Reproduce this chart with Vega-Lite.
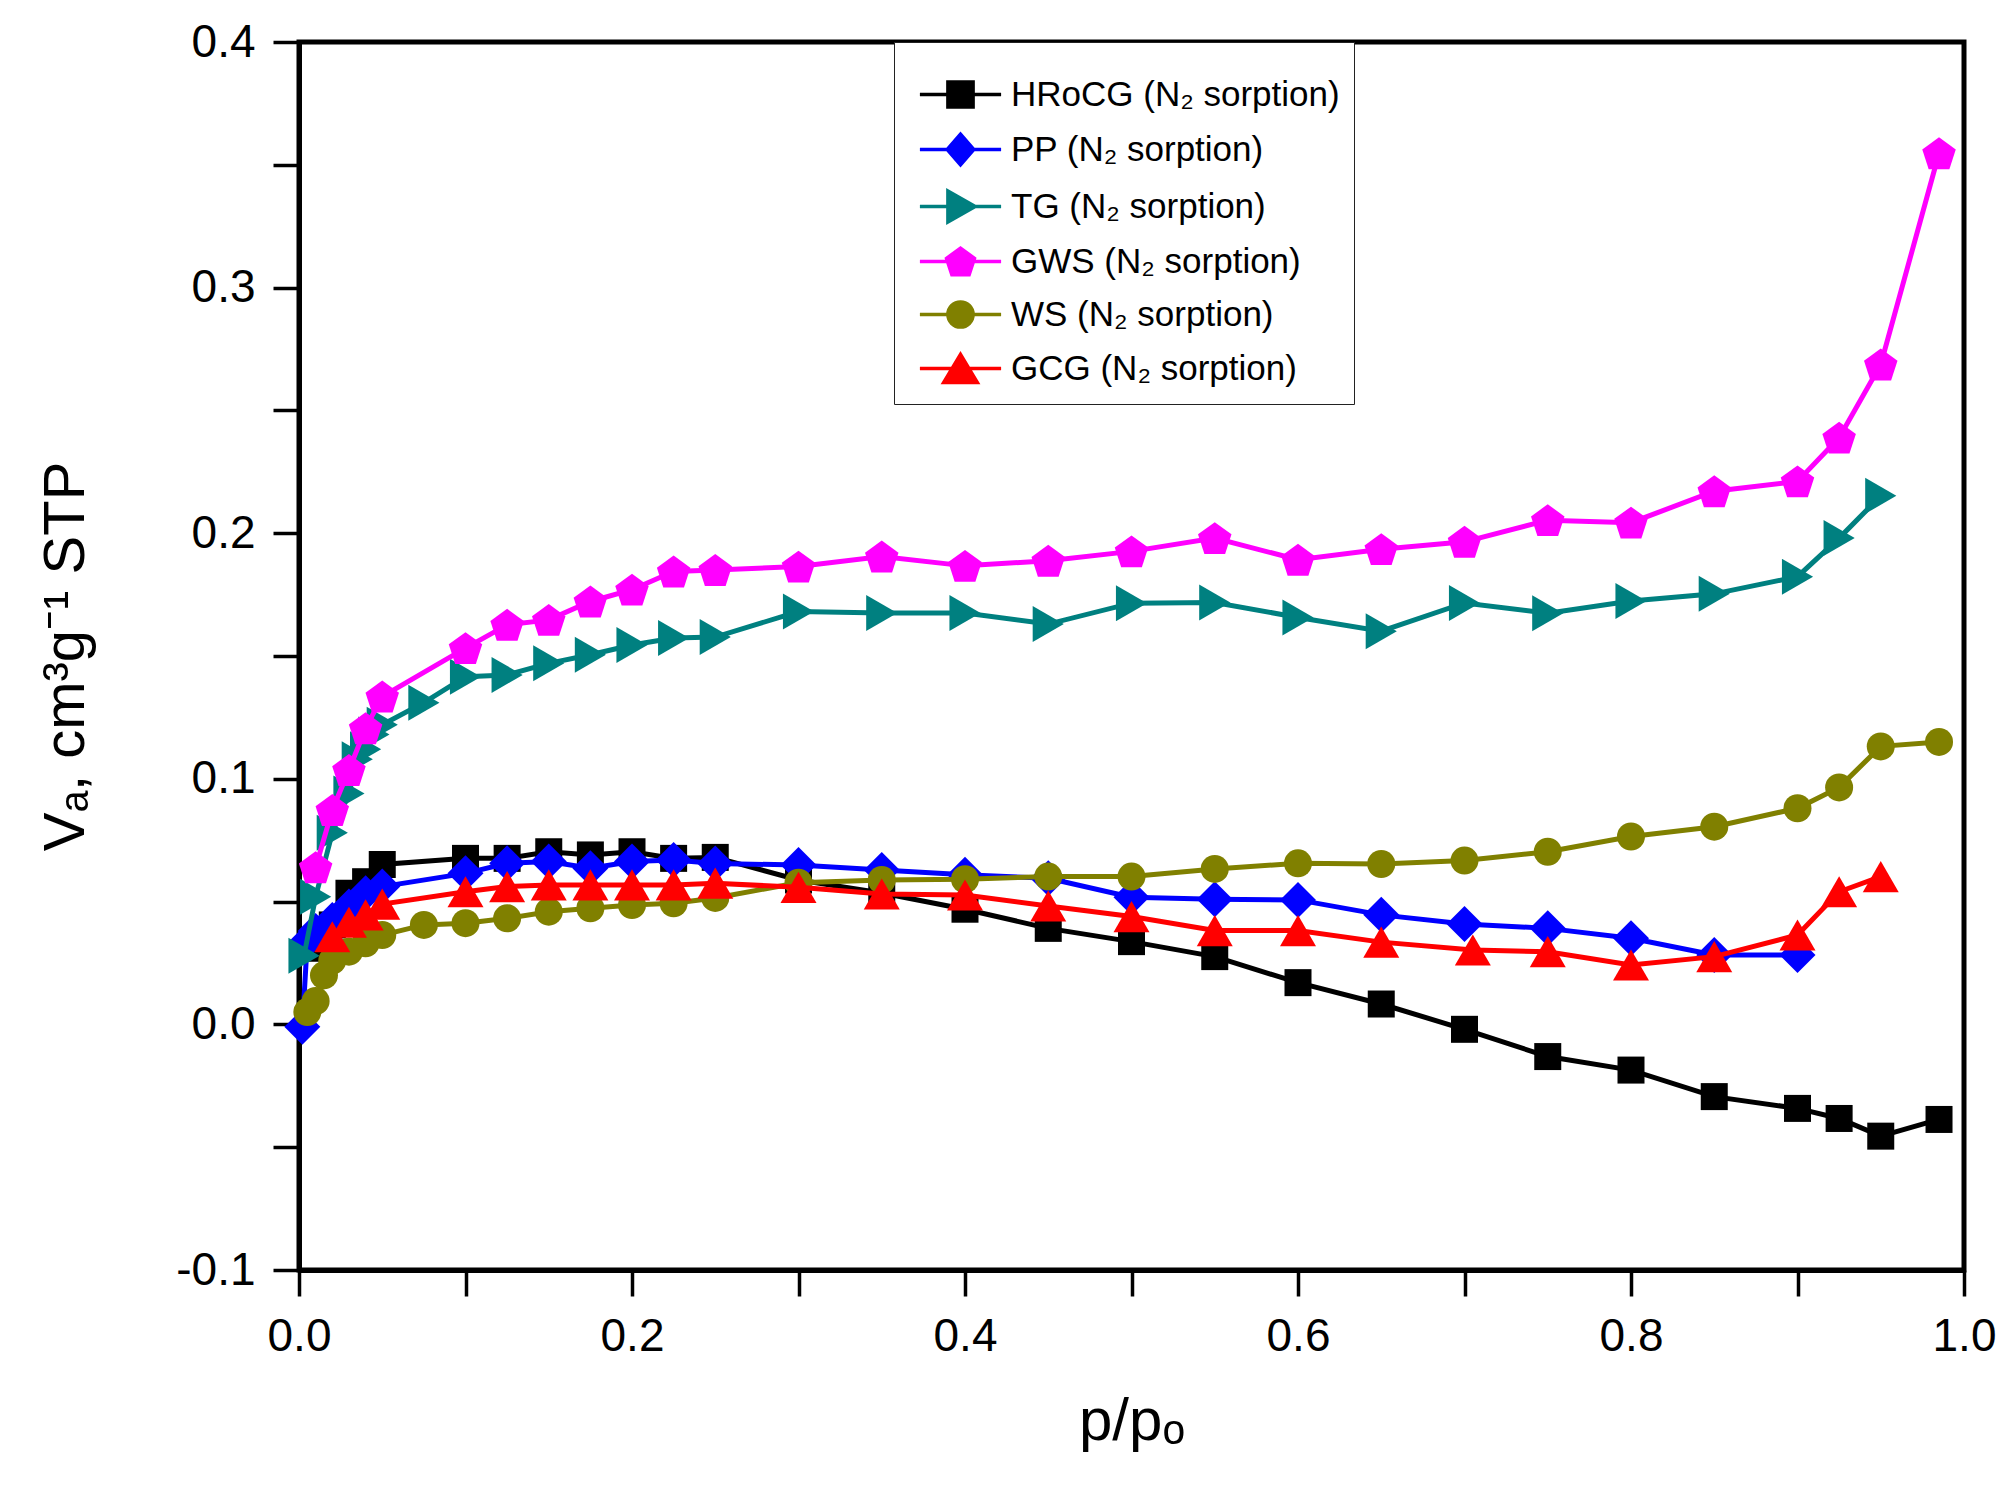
{
  "$schema": "https://vega.github.io/schema/vega-lite/v6.json",
  "width": 1665,
  "height": 1228,
  "autosize": {"type": "none"},
  "padding": {"left": 299, "top": 42, "right": 49, "bottom": 220},
  "background": "white",
  "config": {
    "view": {"stroke": "black", "strokeWidth": 5},
    "font": "Liberation Sans",
    "axis": {
      "grid": false,
      "domainColor": "black",
      "domainWidth": 5,
      "tickColor": "black",
      "tickWidth": 3.5,
      "tickSize": 26,
      "labelFont": "Liberation Sans",
      "labelFontSize": 46,
      "labelColor": "black",
      "labelPadding": 18,
      "labelOverlap": false,
      "labelFlush": false,
      "titleFont": "Liberation Sans",
      "titleFontWeight": "normal",
      "titleColor": "black"
    },
    "legend": {
      "orient": "none",
      "legendX": 595,
      "legendY": 0,
      "titleFontSize": 1,
      "titlePadding": 20,
      "padding": 14,
      "symbolSize": 784,
      "symbolOffset": 35,
      "symbolStrokeWidth": 3.5,
      "labelOffset": 33,
      "labelLimit": 0,
      "rowPadding": 12,
      "labelFont": "Liberation Sans",
      "labelFontSize": 35,
      "labelColor": "black",
      "strokeColor": "#222222",
      "fillColor": "white"
    }
  },
  "data": {
    "values": [
      {"sample": "HRoCG", "p": 0.01, "v": 0.031},
      {"sample": "HRoCG", "p": 0.02, "v": 0.0405},
      {"sample": "HRoCG", "p": 0.03, "v": 0.0534},
      {"sample": "HRoCG", "p": 0.04, "v": 0.0581},
      {"sample": "HRoCG", "p": 0.05, "v": 0.0651},
      {"sample": "HRoCG", "p": 0.1, "v": 0.0676},
      {"sample": "HRoCG", "p": 0.125, "v": 0.0676},
      {"sample": "HRoCG", "p": 0.15, "v": 0.0703},
      {"sample": "HRoCG", "p": 0.175, "v": 0.069},
      {"sample": "HRoCG", "p": 0.2, "v": 0.0703},
      {"sample": "HRoCG", "p": 0.225, "v": 0.0676},
      {"sample": "HRoCG", "p": 0.25, "v": 0.068},
      {"sample": "HRoCG", "p": 0.3, "v": 0.0588},
      {"sample": "HRoCG", "p": 0.35, "v": 0.0535},
      {"sample": "HRoCG", "p": 0.4, "v": 0.0469},
      {"sample": "HRoCG", "p": 0.45, "v": 0.0391},
      {"sample": "HRoCG", "p": 0.5, "v": 0.0337},
      {"sample": "HRoCG", "p": 0.55, "v": 0.0276},
      {"sample": "HRoCG", "p": 0.6, "v": 0.017},
      {"sample": "HRoCG", "p": 0.65, "v": 0.0083},
      {"sample": "HRoCG", "p": 0.7, "v": -0.002},
      {"sample": "HRoCG", "p": 0.75, "v": -0.0131},
      {"sample": "HRoCG", "p": 0.8, "v": -0.0186},
      {"sample": "HRoCG", "p": 0.85, "v": -0.0294},
      {"sample": "HRoCG", "p": 0.9, "v": -0.0342},
      {"sample": "HRoCG", "p": 0.925, "v": -0.0383},
      {"sample": "HRoCG", "p": 0.95, "v": -0.0455},
      {"sample": "HRoCG", "p": 0.985, "v": -0.0387},

      {"sample": "PP", "p": 0.002, "v": -0.001},
      {"sample": "PP", "p": 0.005, "v": 0.034},
      {"sample": "PP", "p": 0.01, "v": 0.038},
      {"sample": "PP", "p": 0.02, "v": 0.0425},
      {"sample": "PP", "p": 0.03, "v": 0.048},
      {"sample": "PP", "p": 0.04, "v": 0.0534},
      {"sample": "PP", "p": 0.05, "v": 0.0561},
      {"sample": "PP", "p": 0.1, "v": 0.0615},
      {"sample": "PP", "p": 0.125, "v": 0.0656},
      {"sample": "PP", "p": 0.15, "v": 0.0663},
      {"sample": "PP", "p": 0.175, "v": 0.0636},
      {"sample": "PP", "p": 0.2, "v": 0.0663},
      {"sample": "PP", "p": 0.225, "v": 0.0669},
      {"sample": "PP", "p": 0.25, "v": 0.0655},
      {"sample": "PP", "p": 0.3, "v": 0.0649},
      {"sample": "PP", "p": 0.35, "v": 0.0629},
      {"sample": "PP", "p": 0.4, "v": 0.0609},
      {"sample": "PP", "p": 0.45, "v": 0.0595},
      {"sample": "PP", "p": 0.5, "v": 0.0518},
      {"sample": "PP", "p": 0.55, "v": 0.051},
      {"sample": "PP", "p": 0.6, "v": 0.0507},
      {"sample": "PP", "p": 0.65, "v": 0.0446},
      {"sample": "PP", "p": 0.7, "v": 0.0409},
      {"sample": "PP", "p": 0.75, "v": 0.0391},
      {"sample": "PP", "p": 0.8, "v": 0.0351},
      {"sample": "PP", "p": 0.85, "v": 0.0283},
      {"sample": "PP", "p": 0.9, "v": 0.0283},

      {"sample": "TG", "p": 0.003, "v": 0.028},
      {"sample": "TG", "p": 0.01, "v": 0.052},
      {"sample": "TG", "p": 0.02, "v": 0.078},
      {"sample": "TG", "p": 0.03, "v": 0.094},
      {"sample": "TG", "p": 0.035, "v": 0.108},
      {"sample": "TG", "p": 0.04, "v": 0.112},
      {"sample": "TG", "p": 0.045, "v": 0.118},
      {"sample": "TG", "p": 0.05, "v": 0.122},
      {"sample": "TG", "p": 0.075, "v": 0.131},
      {"sample": "TG", "p": 0.1, "v": 0.1416},
      {"sample": "TG", "p": 0.125, "v": 0.1423},
      {"sample": "TG", "p": 0.15, "v": 0.147},
      {"sample": "TG", "p": 0.175, "v": 0.1505},
      {"sample": "TG", "p": 0.2, "v": 0.1545},
      {"sample": "TG", "p": 0.225, "v": 0.1573},
      {"sample": "TG", "p": 0.25, "v": 0.1577},
      {"sample": "TG", "p": 0.3, "v": 0.1681},
      {"sample": "TG", "p": 0.35, "v": 0.1675},
      {"sample": "TG", "p": 0.4, "v": 0.1675},
      {"sample": "TG", "p": 0.45, "v": 0.163},
      {"sample": "TG", "p": 0.5, "v": 0.1715},
      {"sample": "TG", "p": 0.55, "v": 0.1718},
      {"sample": "TG", "p": 0.6, "v": 0.1657},
      {"sample": "TG", "p": 0.65, "v": 0.1601},
      {"sample": "TG", "p": 0.7, "v": 0.1716},
      {"sample": "TG", "p": 0.75, "v": 0.1674},
      {"sample": "TG", "p": 0.8, "v": 0.1724},
      {"sample": "TG", "p": 0.85, "v": 0.1753},
      {"sample": "TG", "p": 0.9, "v": 0.1823},
      {"sample": "TG", "p": 0.925, "v": 0.198},
      {"sample": "TG", "p": 0.95, "v": 0.2152},

      {"sample": "GWS", "p": 0.01, "v": 0.064},
      {"sample": "GWS", "p": 0.02, "v": 0.0873},
      {"sample": "GWS", "p": 0.03, "v": 0.1036},
      {"sample": "GWS", "p": 0.04, "v": 0.1206},
      {"sample": "GWS", "p": 0.05, "v": 0.1335},
      {"sample": "GWS", "p": 0.1, "v": 0.1532},
      {"sample": "GWS", "p": 0.125, "v": 0.1627},
      {"sample": "GWS", "p": 0.15, "v": 0.1647},
      {"sample": "GWS", "p": 0.175, "v": 0.1722},
      {"sample": "GWS", "p": 0.2, "v": 0.177},
      {"sample": "GWS", "p": 0.225, "v": 0.1844},
      {"sample": "GWS", "p": 0.25, "v": 0.185},
      {"sample": "GWS", "p": 0.3, "v": 0.1864},
      {"sample": "GWS", "p": 0.35, "v": 0.1905},
      {"sample": "GWS", "p": 0.4, "v": 0.1867},
      {"sample": "GWS", "p": 0.45, "v": 0.1888},
      {"sample": "GWS", "p": 0.5, "v": 0.1926},
      {"sample": "GWS", "p": 0.55, "v": 0.198},
      {"sample": "GWS", "p": 0.6, "v": 0.1892},
      {"sample": "GWS", "p": 0.65, "v": 0.1935},
      {"sample": "GWS", "p": 0.7, "v": 0.1965},
      {"sample": "GWS", "p": 0.75, "v": 0.2053},
      {"sample": "GWS", "p": 0.8, "v": 0.2043},
      {"sample": "GWS", "p": 0.85, "v": 0.2171},
      {"sample": "GWS", "p": 0.9, "v": 0.2211},
      {"sample": "GWS", "p": 0.925, "v": 0.2389},
      {"sample": "GWS", "p": 0.95, "v": 0.2687},
      {"sample": "GWS", "p": 0.985, "v": 0.3547},

      {"sample": "WS", "p": 0.005, "v": 0.005},
      {"sample": "WS", "p": 0.01, "v": 0.0095},
      {"sample": "WS", "p": 0.015, "v": 0.02},
      {"sample": "WS", "p": 0.02, "v": 0.026},
      {"sample": "WS", "p": 0.03, "v": 0.0296},
      {"sample": "WS", "p": 0.04, "v": 0.033},
      {"sample": "WS", "p": 0.05, "v": 0.0364},
      {"sample": "WS", "p": 0.075, "v": 0.0405},
      {"sample": "WS", "p": 0.1, "v": 0.0412},
      {"sample": "WS", "p": 0.125, "v": 0.0432},
      {"sample": "WS", "p": 0.15, "v": 0.0459},
      {"sample": "WS", "p": 0.175, "v": 0.0473},
      {"sample": "WS", "p": 0.2, "v": 0.0486},
      {"sample": "WS", "p": 0.225, "v": 0.0493},
      {"sample": "WS", "p": 0.25, "v": 0.0515},
      {"sample": "WS", "p": 0.3, "v": 0.0577},
      {"sample": "WS", "p": 0.35, "v": 0.0588},
      {"sample": "WS", "p": 0.4, "v": 0.0591},
      {"sample": "WS", "p": 0.45, "v": 0.0602},
      {"sample": "WS", "p": 0.5, "v": 0.0602},
      {"sample": "WS", "p": 0.55, "v": 0.0633},
      {"sample": "WS", "p": 0.6, "v": 0.0656},
      {"sample": "WS", "p": 0.65, "v": 0.0653},
      {"sample": "WS", "p": 0.7, "v": 0.0667},
      {"sample": "WS", "p": 0.75, "v": 0.0703},
      {"sample": "WS", "p": 0.8, "v": 0.0765},
      {"sample": "WS", "p": 0.85, "v": 0.0805},
      {"sample": "WS", "p": 0.9, "v": 0.088},
      {"sample": "WS", "p": 0.925, "v": 0.0965},
      {"sample": "WS", "p": 0.95, "v": 0.1132},
      {"sample": "WS", "p": 0.985, "v": 0.115},

      {"sample": "GCG", "p": 0.02, "v": 0.0357},
      {"sample": "GCG", "p": 0.03, "v": 0.0416},
      {"sample": "GCG", "p": 0.04, "v": 0.0446},
      {"sample": "GCG", "p": 0.05, "v": 0.049},
      {"sample": "GCG", "p": 0.1, "v": 0.054},
      {"sample": "GCG", "p": 0.125, "v": 0.0561},
      {"sample": "GCG", "p": 0.15, "v": 0.0568},
      {"sample": "GCG", "p": 0.175, "v": 0.0568},
      {"sample": "GCG", "p": 0.2, "v": 0.0568},
      {"sample": "GCG", "p": 0.225, "v": 0.0568},
      {"sample": "GCG", "p": 0.25, "v": 0.0575},
      {"sample": "GCG", "p": 0.3, "v": 0.0558},
      {"sample": "GCG", "p": 0.35, "v": 0.0531},
      {"sample": "GCG", "p": 0.4, "v": 0.0527},
      {"sample": "GCG", "p": 0.45, "v": 0.0482},
      {"sample": "GCG", "p": 0.5, "v": 0.0439},
      {"sample": "GCG", "p": 0.55, "v": 0.0382},
      {"sample": "GCG", "p": 0.6, "v": 0.0382},
      {"sample": "GCG", "p": 0.65, "v": 0.0335},
      {"sample": "GCG", "p": 0.705, "v": 0.0303},
      {"sample": "GCG", "p": 0.75, "v": 0.0296},
      {"sample": "GCG", "p": 0.8, "v": 0.0242},
      {"sample": "GCG", "p": 0.85, "v": 0.0276},
      {"sample": "GCG", "p": 0.9, "v": 0.0364},
      {"sample": "GCG", "p": 0.925, "v": 0.054},
      {"sample": "GCG", "p": 0.95, "v": 0.0602}
    ]
  },
  "encoding": {
    "x": {
      "field": "p",
      "type": "quantitative",
      "scale": {"domain": [0, 1], "nice": false, "zero": false},
      "axis": {
        "title": "p/pₒ",
        "titleFontSize": 60,
        "titlePadding": 33,
        "values": [0, 0.1, 0.2, 0.3, 0.4, 0.5, 0.6, 0.7, 0.8, 0.9, 1],
        "labelExpr": "abs(datum.value * 5 - round(datum.value * 5)) < 0.01 ? format(datum.value, '.1f') : ''",
        "encode": {
          "ticks": {"update": {"y2": {"signal": "abs(datum.value * 5 - round(datum.value * 5)) < 0.01 ? 26 : 14"}}}
        }
      }
    },
    "y": {
      "field": "v",
      "type": "quantitative",
      "scale": {"domain": [-0.1, 0.4], "nice": false, "zero": false},
      "axis": {
        "title": "Vₐ, cm³g⁻¹ STP",
        "titleFontSize": 58,
        "titlePadding": 80,
        "values": [-0.1, -0.05, 0, 0.05, 0.1, 0.15, 0.2, 0.25, 0.3, 0.35, 0.4],
        "labelExpr": "abs(datum.value * 10 - round(datum.value * 10)) < 0.01 ? (datum.value < -0.001 ? '-' : '') + format(abs(datum.value), '.1f') : ''",
        "encode": {
          "ticks": {"update": {"x2": {"signal": "abs(datum.value * 10 - round(datum.value * 10)) < 0.01 ? -26 : -14"}}}
        }
      }
    }
  },
  "layer": [
    {
      "transform": [{"filter": "datum.sample === 'HRoCG'"}],
      "layer": [
        {"mark": {"type": "line", "color": "#000000", "strokeWidth": 5}},
        {"mark": {"type": "point", "filled": true, "opacity": 1, "color": "#000000", "shape": "square", "size": 729}}
      ]
    },
    {
      "transform": [{"filter": "datum.sample === 'PP'"}],
      "layer": [
        {"mark": {"type": "line", "color": "#0000ff", "strokeWidth": 5}},
        {"mark": {"type": "point", "filled": true, "opacity": 1, "color": "#0000ff", "shape": "diamond", "size": 1296}}
      ]
    },
    {
      "transform": [{"filter": "datum.sample === 'TG'"}],
      "layer": [
        {"mark": {"type": "line", "color": "#008080", "strokeWidth": 5}},
        {"mark": {"type": "point", "filled": true, "opacity": 1, "color": "#008080", "shape": "triangle-right", "size": 1296}}
      ]
    },
    {
      "transform": [{"filter": "datum.sample === 'GWS'"}],
      "layer": [
        {"mark": {"type": "line", "color": "#ff00ff", "strokeWidth": 5}},
        {"mark": {"type": "point", "filled": true, "opacity": 1, "color": "#ff00ff", "shape": "M0,-0.905L0.951,-0.214L0.588,0.905L-0.588,0.905L-0.951,-0.214Z", "size": 1240}}
      ]
    },
    {
      "transform": [{"filter": "datum.sample === 'WS'"}],
      "layer": [
        {"mark": {"type": "line", "color": "#808000", "strokeWidth": 5}},
        {"mark": {"type": "point", "filled": true, "opacity": 1, "color": "#808000", "shape": "circle", "size": 784}}
      ]
    },
    {
      "transform": [{"filter": "datum.sample === 'GCG'"}],
      "layer": [
        {"mark": {"type": "line", "color": "#ff0000", "strokeWidth": 5}},
        {"mark": {"type": "point", "filled": true, "opacity": 1, "color": "#ff0000", "shape": "triangle-up", "size": 1296}}
      ]
    },
    {
      "transform": [{"filter": "false"}],
      "mark": {"type": "point", "filled": true, "opacity": 1, "strokeWidth": 3.5},
      "encoding": {
        "fill": {
          "field": "sample",
          "type": "nominal",
          "scale": {
            "domain": ["HRoCG", "PP", "TG", "GWS", "WS", "GCG"],
            "range": ["#000000", "#0000ff", "#008080", "#ff00ff", "#808000", "#ff0000"]
          },
          "legend": {"title": " ", "labelExpr": "datum.label + ' (N₂ sorption)'"}
        },
        "stroke": {
          "field": "sample",
          "type": "nominal",
          "scale": {
            "domain": ["HRoCG", "PP", "TG", "GWS", "WS", "GCG"],
            "range": ["#000000", "#0000ff", "#008080", "#ff00ff", "#808000", "#ff0000"]
          },
          "legend": {"title": " ", "labelExpr": "datum.label + ' (N₂ sorption)'"}
        },
        "shape": {
          "field": "sample",
          "type": "nominal",
          "scale": {
            "domain": ["HRoCG", "PP", "TG", "GWS", "WS", "GCG"],
            "range": [
              "M-2.9,0H2.9M-0.9,-0.9H0.9V0.9H-0.9Z",
              "M-2.9,0H2.9M0,-1.1L0.95,0L0,1.1L-0.95,0Z",
              "M-2.9,0H2.9M-0.9,-1.1L1.05,0L-0.9,1.1Z",
              "M-2.9,0H2.9M0,-0.95L1,-0.225L0.617,0.95L-0.617,0.95L-1,-0.225Z",
              "M-2.9,0H2.9M0.9,0A0.9,0.9 0 1,1 -0.9,0A0.9,0.9 0 1,1 0.9,0Z",
              "M-2.9,0H2.9M0,-1L1.2,1L-1.2,1Z"
            ]
          },
          "legend": {"title": " ", "labelExpr": "datum.label + ' (N₂ sorption)'"}
        }
      }
    }
  ]
}
